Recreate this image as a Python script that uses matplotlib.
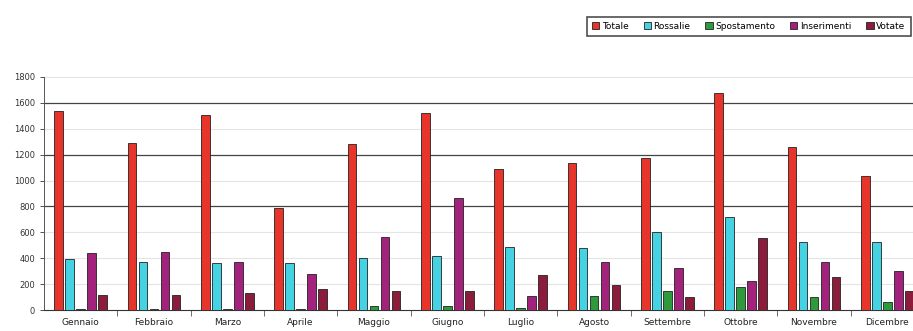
import matplotlib.pyplot as plt
import numpy as np

# months (x categories)
mesi = ['Gennaio', 'Febbraio', 'Marzo', 'Aprile', 'Maggio', 'Giugno',
        'Luglio', 'Agosto', 'Settembre', 'Ottobre', 'Novembre', 'Dicembre']

# series values
totale = [1540, 1288, 1507, 786, 1280, 1520, 1087, 1139, 1172, 1680, 1262, 1038]
rossalie = [392, 373, 361, 361, 399, 417, 489, 482, 605, 721, 528, 523]
spostamento = [5, 5, 5, 8, 31, 31, 15, 111, 149, 175, 98, 64]
inserimenti = [438, 451, 373, 276, 562, 863, 111, 369, 322, 224, 373, 304]
votate = [116, 116, 134, 162, 147, 147, 273, 193, 98, 559, 258, 149]

serie = [totale, rossalie, spostamento, inserimenti, votate]
nomi = ['Totale', 'Rossalie', 'Spostamento', 'Inserimenti', 'Votate']
colori = ['#e8352b', '#45d2e2', '#2f9a3c', '#a3237c', '#8c1c3c']

fig = plt.figure(figsize=(9.13, 3.31), dpi=100)
ax = fig.add_axes([44 / 913, 21 / 331, 880 / 913, 233 / 331])

x = np.arange(len(mesi))
slot = 0.15
w = 0.115
for i, (vals, nome, col) in enumerate(zip(serie, nomi, colori)):
    ax.bar(x + (i - 2) * slot, vals, width=w, color=col, edgecolor='#222222',
           linewidth=0.6, label=nome, zorder=3)

ax.set_xlim(-0.5, len(mesi) - 0.5)
ax.set_ylim(0, 1800)
ax.set_yticks(np.arange(0, 1801, 200))
ax.tick_params(axis='y', labelsize=6, colors='#333333', length=3, width=0.6)
ax.set_xticks(x)
ax.set_xticklabels(mesi, fontsize=6.5, color='#222222')
ax.tick_params(axis='x', length=0, pad=6)
ax.set_xticks(np.arange(0.5, len(mesi) - 0.5, 1), minor=True)
ax.tick_params(axis='x', which='minor', length=4, width=0.6, colors='#555555')

# gridlines: dark every 400 from 800, light elsewhere
for v in range(200, 1801, 200):
    if v in (800, 1200, 1600):
        ax.axhline(v, color='#444444', linewidth=0.9, zorder=1)
    else:
        ax.axhline(v, color='#e4e4e4', linewidth=0.8, zorder=1)

for s in ['top', 'right']:
    ax.spines[s].set_visible(False)
ax.spines['left'].set_color('#555555')
ax.spines['bottom'].set_color('#333333')
ax.spines['left'].set_linewidth(0.7)
ax.spines['bottom'].set_linewidth(0.8)

leg = fig.legend(loc='upper left', bbox_to_anchor=(582 / 913, 1 - 12 / 331),
                 ncol=5, fontsize=6.5, frameon=True, fancybox=False,
                 handlelength=0.8, handleheight=0.8, handletextpad=0.3,
                 columnspacing=1.65, borderpad=0.6)
leg.get_frame().set_edgecolor('#222222')
leg.get_frame().set_linewidth(1.2)

fig.savefig('out.png', dpi=100)
